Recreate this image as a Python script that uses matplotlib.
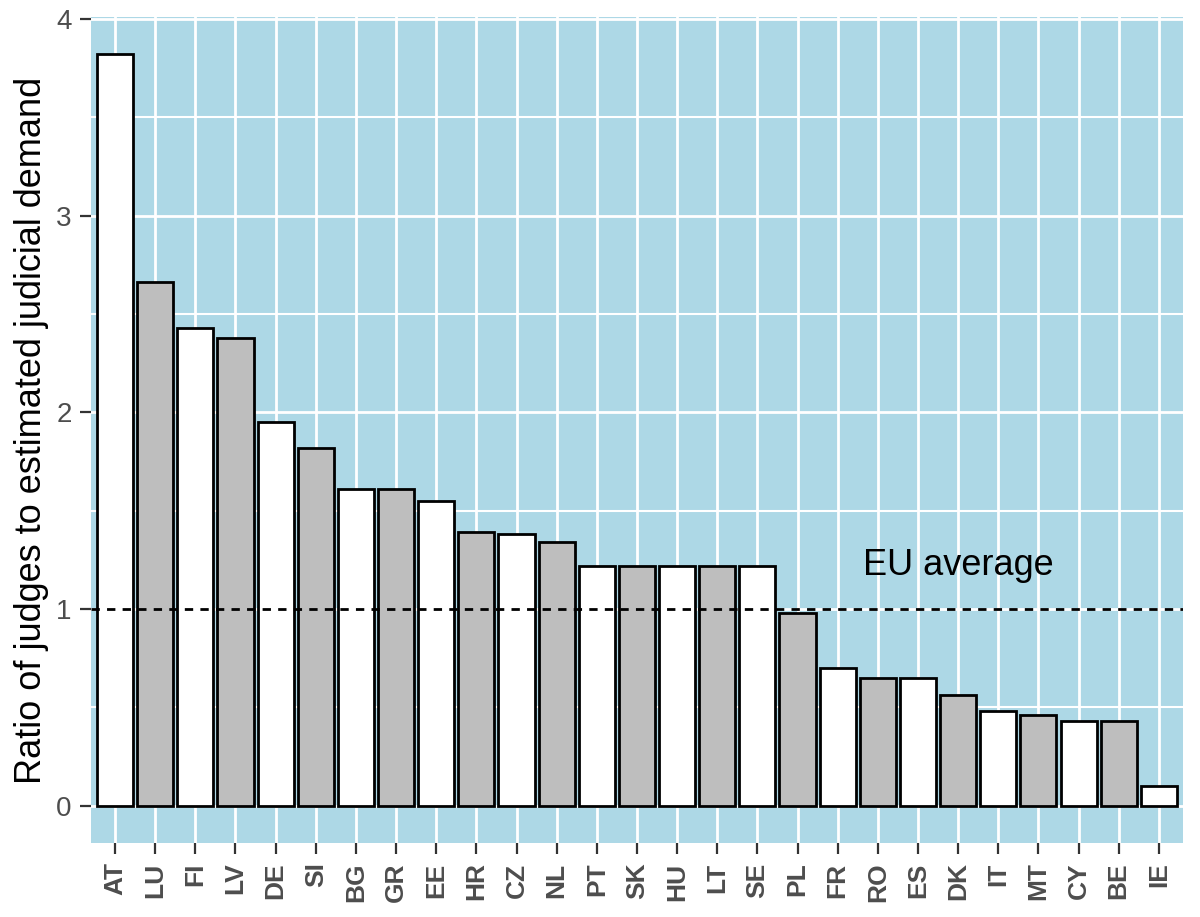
import matplotlib
matplotlib.use("Agg")
import matplotlib.pyplot as plt
import numpy as np

# data ------------------------------
countries = ["AT", "LU", "FI", "LV", "DE", "SI", "BG", "GR", "EE", "HR", "CZ", "NL",
             "PT", "SK", "HU", "LT", "SE", "PL", "FR", "RO", "ES", "DK", "IT", "MT",
             "CY", "BE", "IE"]
ratio = [3.82, 2.66, 2.43, 2.38, 1.95, 1.82, 1.61, 1.61, 1.55, 1.39, 1.38, 1.34,
         1.22, 1.22, 1.22, 1.22, 1.22, 0.98, 0.70, 0.65, 0.65, 0.56, 0.48, 0.46,
         0.43, 0.43, 0.10]
eu_average = 1.0

plt.rcParams["font.family"] = ["Liberation Sans", "DejaVu Sans"]

fig = plt.figure(figsize=(12, 9.17), dpi=100)
ax = fig.add_axes([0.0758, 0.0807, 0.91, 0.9008])

x = np.arange(1, len(countries) + 1)
colours = ["white" if i % 2 == 0 else "#BEBEBE" for i in range(len(countries))]

ax.set_facecolor("#ADD8E6")
ax.bar(x, ratio, width=0.9, color=colours, edgecolor="black", linewidth=2.0, zorder=3)

# EU average line + label
ax.axhline(eu_average, color="black", linestyle=(0, (3, 2.6)), linewidth=2.0, zorder=4)
ax.text(22, 1.22, "EU average", fontsize=26, ha="center", va="center", color="black", zorder=5)

ax.set_xlim(0.4, len(countries) + 0.6)
ax.set_ylim(-0.19, 4.01)
ax.set_xticks(x)
ax.set_xticklabels(countries, rotation=90, fontsize=19, fontweight="bold", color="#4D4D4D")
ax.set_yticks([0, 1, 2, 3, 4])
ax.set_yticks([0.5, 1.5, 2.5, 3.5], minor=True)
ax.tick_params(axis="y", labelsize=20, labelcolor="#4D4D4D", color="#333333",
               length=8, width=1.6, pad=6)
ax.tick_params(axis="x", color="#333333", length=8, width=1.6, pad=6)
ax.tick_params(axis="y", which="minor", length=0)

ax.grid(True, which="major", color="white", linewidth=2.0, zorder=0)
ax.grid(True, which="minor", axis="y", color="white", linewidth=1.5, zorder=0)
ax.set_axisbelow(True)
for s in ax.spines.values():
    s.set_visible(False)

ax.set_ylabel("Ratio of judges to estimated judicial demand", fontsize=26, labelpad=5)

fig.savefig("out.png", dpi=100)
